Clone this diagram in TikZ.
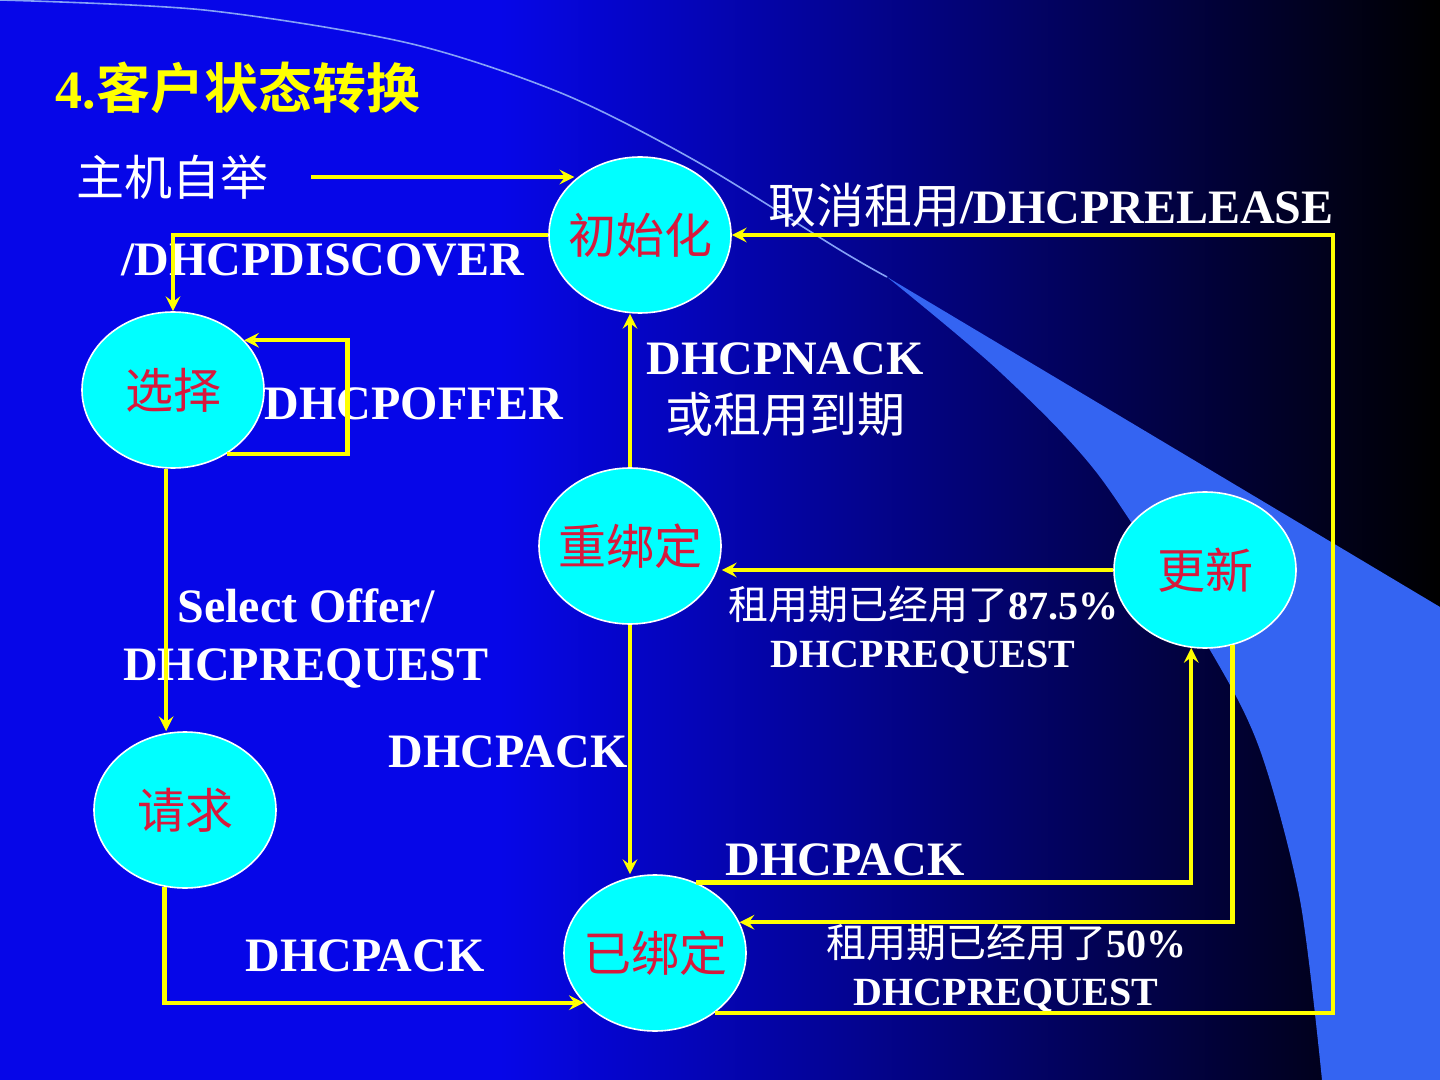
\documentclass[tikz,border=0pt]{standalone}
\usepackage{fontspec}
\setmainfont{Liberation Serif}
\newfontfamily\zhfont{Noto Sans CJK SC}
\newfontfamily\zhheavy{Noto Sans CJK SC Black}
\usepackage{tikz}
\usetikzlibrary{arrows,shapes,calc}
\definecolor{slideblue}{RGB}{6,6,232}
\definecolor{wedgeblue}{RGB}{52,100,242}
\definecolor{stateface}{RGB}{0,255,255}
\definecolor{statetext}{RGB}{215,25,60}
\definecolor{flowyellow}{RGB}{255,255,0}

\begin{document}
\begin{tikzpicture}[x = .5pt, y = -.5pt,
    state/.style = {ellipse, draw = white, line width = .8pt, fill = stateface, minimum width = 91pt, minimum height = 78pt, inner xsep = -5pt, inner ysep = 0pt, text = statetext, font = \fontsize{24}{28}\selectfont\zhfont},
    lbl/.style = {white, align = center, font = \fontsize{24}{29}\selectfont\bfseries},
    small/.style = {white, align = center, font = \fontsize{20}{24}\selectfont\bfseries},
    flow/.style = {->, >=stealth, flowyellow, line width = 2.2pt}]
    \useasboundingbox (0,0) rectangle (1440,1080);
    % background
    \fill[slideblue] (0,0) rectangle (1440,1080);
    \shade[left color = slideblue, right color = black] (500,0) rectangle (1440,1080);
    \fill[wedgeblue] (887,277) -- (1440,607) -- (1440,1080) -- plot[smooth] coordinates {(1322,1080) (1300,900) (1260,750) (1210,650) (1100,477) (1000,372) (887,277)} -- cycle;
    \draw[wedgeblue!60!white, line width = .8pt] plot[smooth] coordinates {(0,0) (204,10) (408,43) (561,93) (694,160) (840,250) (887,277)};
    % states
    \node[state] (init) at (640,235) {初始化};
    \node[state] (select) at (173,390) {选择};
    \node[state] (request) at (185,810) {请求};
    \node[state] (rebind) at (630,546) {重绑定};
    \node[state] (bound) at (655,953) {已绑定};
    \node[state] (renew) at (1205,570) {更新};
    % texts
    \node[flowyellow, font = \fontsize{27}{30}\selectfont\bfseries] (title) at (238,88) {4.{\zhheavy 客户状态转换}};
    \node[white, font = \fontsize{24}{28}\selectfont\zhfont] (boot) at (172,177) {主机自举};
    \node[lbl] (discover) at (323,260) {/DHCPDISCOVER};
    \node[lbl] (offer) at (414,404) {DHCPOFFER};
    \node[lbl] (selreq) at (306,638) {Select Offer/\\DHCPREQUEST};
    \node[lbl] (ack1) at (365,956) {DHCPACK};
    \node[lbl] (nack) at (785,390) {DHCPNACK\\{\zhfont\mdseries 或租用到期}};
    \node[lbl] (ack2) at (508,752) {DHCPACK};
    \node[small] (req875) at (923,630) {{\zhfont\mdseries 租用期已经用了}87.5\%\\DHCPREQUEST};
    \node[lbl] (ack3) at (845,860) {DHCPACK};
    \node[small] (req50) at (1006,968) {{\zhfont\mdseries 租用期已经用了}50\%\\DHCPREQUEST};
    \node[lbl] (release) at (1051,205) {{\zhfont\mdseries 取消租用}/DHCPRELEASE};
    % transitions
    \draw[flow] ([xshift = 18pt]boot.east) -- (boot.east -| init.140);
    \draw[flow] (init.west) -| (select);
    \draw[flow] (select.-50) -- ++(121,0) |- (select.35);
    \draw[flow] (select.265) -- (select.265 |- request.north);
    \draw[flow] (request.255) |- (bound.215);
    \draw[flow] (rebind.north) -- (rebind.north |- init.south);
    \draw[flow] (rebind.south) -- (rebind.south |- bound.north);
    \draw[flow] (renew.west) -- (renew.west -| rebind.east);
    \draw[flow] (bound.60) -| (renew.260);
    \draw[flow] (renew.-70) |- (bound.20);
    \draw[flow] (bound.-45) -- ++(618,0) |- (init.east);
\end{tikzpicture}
\end{document}
